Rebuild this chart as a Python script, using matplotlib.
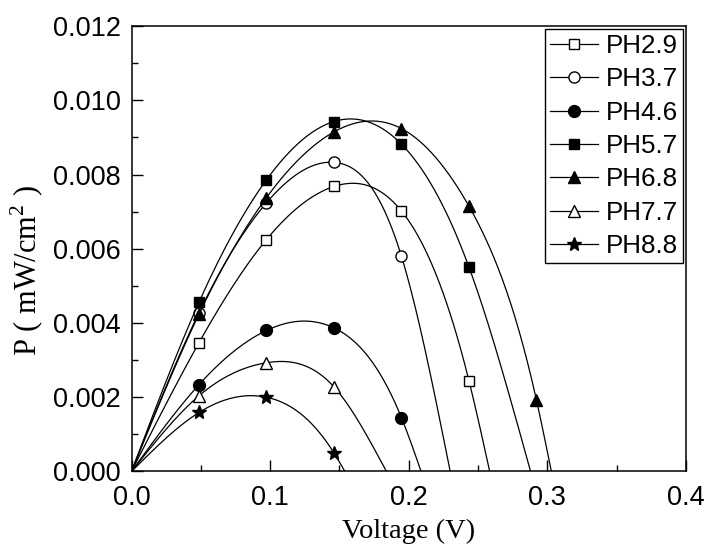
import numpy as np
import matplotlib
matplotlib.use("Agg")
import matplotlib.pyplot as plt

# Power density vs voltage for cells at different pH
v_marks = [0.0487, 0.0974, 0.1461, 0.1948, 0.2435, 0.2922]

labels = ["PH2.9", "PH3.7", "PH4.6", "PH5.7", "PH6.8", "PH7.7", "PH8.8"]
p_marks = [
    [0.00347, 0.00625, 0.00768, 0.00702, 0.00245],
    [0.00428, 0.00724, 0.00833, 0.00580],
    [0.00234, 0.00380, 0.00387, 0.00145],
    [0.00456, 0.00786, 0.00943, 0.00882, 0.00551],
    [0.00424, 0.00738, 0.00915, 0.00924, 0.00715, 0.00193],
    [0.00204, 0.00293, 0.00228],
    [0.00159, 0.00200, 0.00050],
]
# open-circuit voltage, where each curve drops back to zero
v_oc = [0.2585, 0.230, 0.209, 0.288, 0.303, 0.184, 0.154]

markers = ["s", "o", "o", "s", "^", "^", "*"]
faces = ["white", "white", "black", "black", "black", "white", "black"]
msizes = [7, 8, 8.5, 7, 8.5, 8.5, 10]


def natural_spline(x, y, n=300):
    # plain natural cubic spline, used to draw the smooth connecting line
    x = np.asarray(x, float)
    y = np.asarray(y, float)
    k = len(x)
    h = np.diff(x)
    A = np.zeros((k, k))
    b = np.zeros(k)
    A[0, 0] = A[-1, -1] = 1
    for i in range(1, k - 1):
        A[i, i - 1] = h[i - 1]
        A[i, i] = 2 * (h[i - 1] + h[i])
        A[i, i + 1] = h[i]
        b[i] = 6 * ((y[i + 1] - y[i]) / h[i] - (y[i] - y[i - 1]) / h[i - 1])
    M = np.linalg.solve(A, b)
    xs = np.linspace(x[0], x[-1], n)
    idx = np.clip(np.searchsorted(x, xs) - 1, 0, k - 2)
    x0, x1 = x[idx], x[idx + 1]
    y0, y1 = y[idx], y[idx + 1]
    m0, m1 = M[idx], M[idx + 1]
    hh = x1 - x0
    t1 = x1 - xs
    t0 = xs - x0
    ys = (m0 * t1**3 + m1 * t0**3) / (6 * hh) \
        + (y0 / hh - m0 * hh / 6) * t1 + (y1 / hh - m1 * hh / 6) * t0
    return xs, ys


plt.rcParams["font.family"] = ["Liberation Sans", "DejaVu Sans"]
plt.rcParams["font.size"] = 19.5
plt.rcParams["mathtext.fontset"] = "custom"
plt.rcParams["mathtext.rm"] = "Liberation Serif"

fig = plt.figure(figsize=(7.07, 5.56), dpi=100)
ax = fig.add_axes([0.186, 0.152, 0.784, 0.801])

for i, lab in enumerate(labels):
    pm = p_marks[i]
    vm = v_marks[:len(pm)]
    vx = [0.0] + vm + [v_oc[i]]
    py = [0.0] + pm + [0.0]
    xs, ys = natural_spline(vx, py)
    ax.plot(xs, ys, color="black", lw=0.9)
    ax.plot(vm, pm, linestyle="none", marker=markers[i], ms=msizes[i],
            mfc=faces[i], mec="black", mew=1.0)
    # proxy handle for the legend: line with marker
    ax.plot([], [], color="black", lw=0.9, marker=markers[i], ms=msizes[i],
            mfc=faces[i], mec="black", mew=1.0, label=lab)

ax.set_xlim(0, 0.4)
ax.set_ylim(0, 0.012)
ax.set_xticks([0.0, 0.1, 0.2, 0.3, 0.4])
ax.set_xticklabels(["0.0", "0.1", "0.2", "0.3", "0.4"])
yt = np.arange(0, 0.0121, 0.002)
ax.set_yticks(yt)
ax.set_yticklabels(["%.3f" % t for t in yt])
ax.set_xticks([0.05, 0.15, 0.25, 0.35], minor=True)
ax.set_yticks([0.001, 0.003, 0.005, 0.007, 0.009, 0.011], minor=True)
ax.tick_params(which="major", direction="in", length=8, width=1.0)
ax.tick_params(which="minor", direction="in", length=4.5, width=1.0)
ax.tick_params(axis="x", which="major", pad=9.5)
ax.tick_params(axis="y", which="major", pad=7.5)
for s in ax.spines.values():
    s.set_linewidth(1.1)

ax.set_xlabel("Voltage (V)", family="Liberation Serif", fontsize=20.5,
              labelpad=6)
ax.set_ylabel(r"P ( mW/cm$^{2}$ )", family="Liberation Serif", fontsize=22,
              labelpad=2)
ax.yaxis.set_label_coords(-0.155, 0.45)

leg = ax.legend(loc="upper right", frameon=True, fancybox=False,
                edgecolor="black", fontsize=18.7, handlelength=1.85,
                handletextpad=0.3, labelspacing=0.36, borderpad=0.2,
                borderaxespad=0.1, framealpha=1)
leg.get_frame().set_linewidth(1.0)

fig.savefig("out.png", dpi=100)
